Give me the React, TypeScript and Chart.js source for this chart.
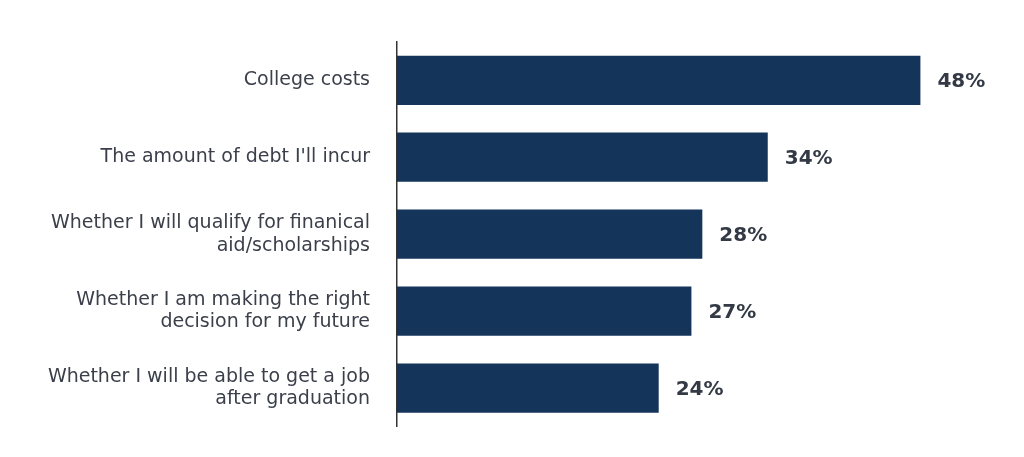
import React, { useEffect, useRef } from 'react';
import { Chart, registerables } from 'chart.js';

Chart.register(...registerables);

const categories: string[][] = [
  ['College costs'],
  ["The amount of debt I'll incur"],
  ['Whether I will qualify for finanical', 'aid/scholarships'],
  ['Whether I am making the right', 'decision for my future'],
  ['Whether I will be able to get a job', 'after graduation'],
];
const values = [48, 34, 28, 27, 24];

const barColor = '#14345a';

const valueLabels = {
  id: 'valueLabels',
  afterDatasetsDraw(chart: Chart) {
    const { ctx } = chart;
    const meta = chart.getDatasetMeta(0);
    ctx.save();
    ctx.font = 'bold 20px "DejaVu Sans"';
    ctx.fillStyle = '#333a45';
    ctx.textAlign = 'left';
    ctx.textBaseline = 'middle';
    meta.data.forEach((bar: any, i: number) => {
      ctx.fillText(`${values[i]}%`, bar.x + 17, bar.y + 2);
    });
    ctx.restore();
  },
};

export default function App() {
  const canvasRef = useRef<HTMLCanvasElement>(null);
  const chartRef = useRef<Chart | null>(null);

  useEffect(() => {
    document.body.style.margin = '0';
    if (!canvasRef.current) return;
    const ctx = canvasRef.current.getContext('2d');
    if (!ctx) return;

    chartRef.current = new Chart(ctx, {
      type: 'bar',
      data: {
        labels: categories,
        datasets: [{
          data: values,
          backgroundColor: barColor,
          categoryPercentage: 0.64,
          barPercentage: 1,
        }],
      },
      options: {
        indexAxis: 'y',
        animation: false,
        responsive: true,
        maintainAspectRatio: false,
        layout: { padding: { top: 0, bottom: 2, left: 0, right: 0 } },
        plugins: { legend: { display: false }, tooltip: { enabled: false } },
        scales: {
          x: { display: false, min: 0, max: 57.5 },
          y: {
            grid: { display: false },
            border: { display: true, color: '#333', width: 1.5 },
            afterFit: (scale: any) => { scale.width = 397; },
            ticks: {
              color: '#3a3f4a',
              padding: 19,
              font: { family: '"DejaVu Sans"', size: 19 },
            },
          },
        },
      },
      plugins: [valueLabels],
    });

    return () => {
      chartRef.current?.destroy();
      chartRef.current = null;
    };
  }, []);

  return (
    <div style={{ position: 'fixed', left: 0, top: 0, width: 1024, height: 457, background: '#fff' }}>
      <canvas ref={canvasRef} />
    </div>
  );
}
